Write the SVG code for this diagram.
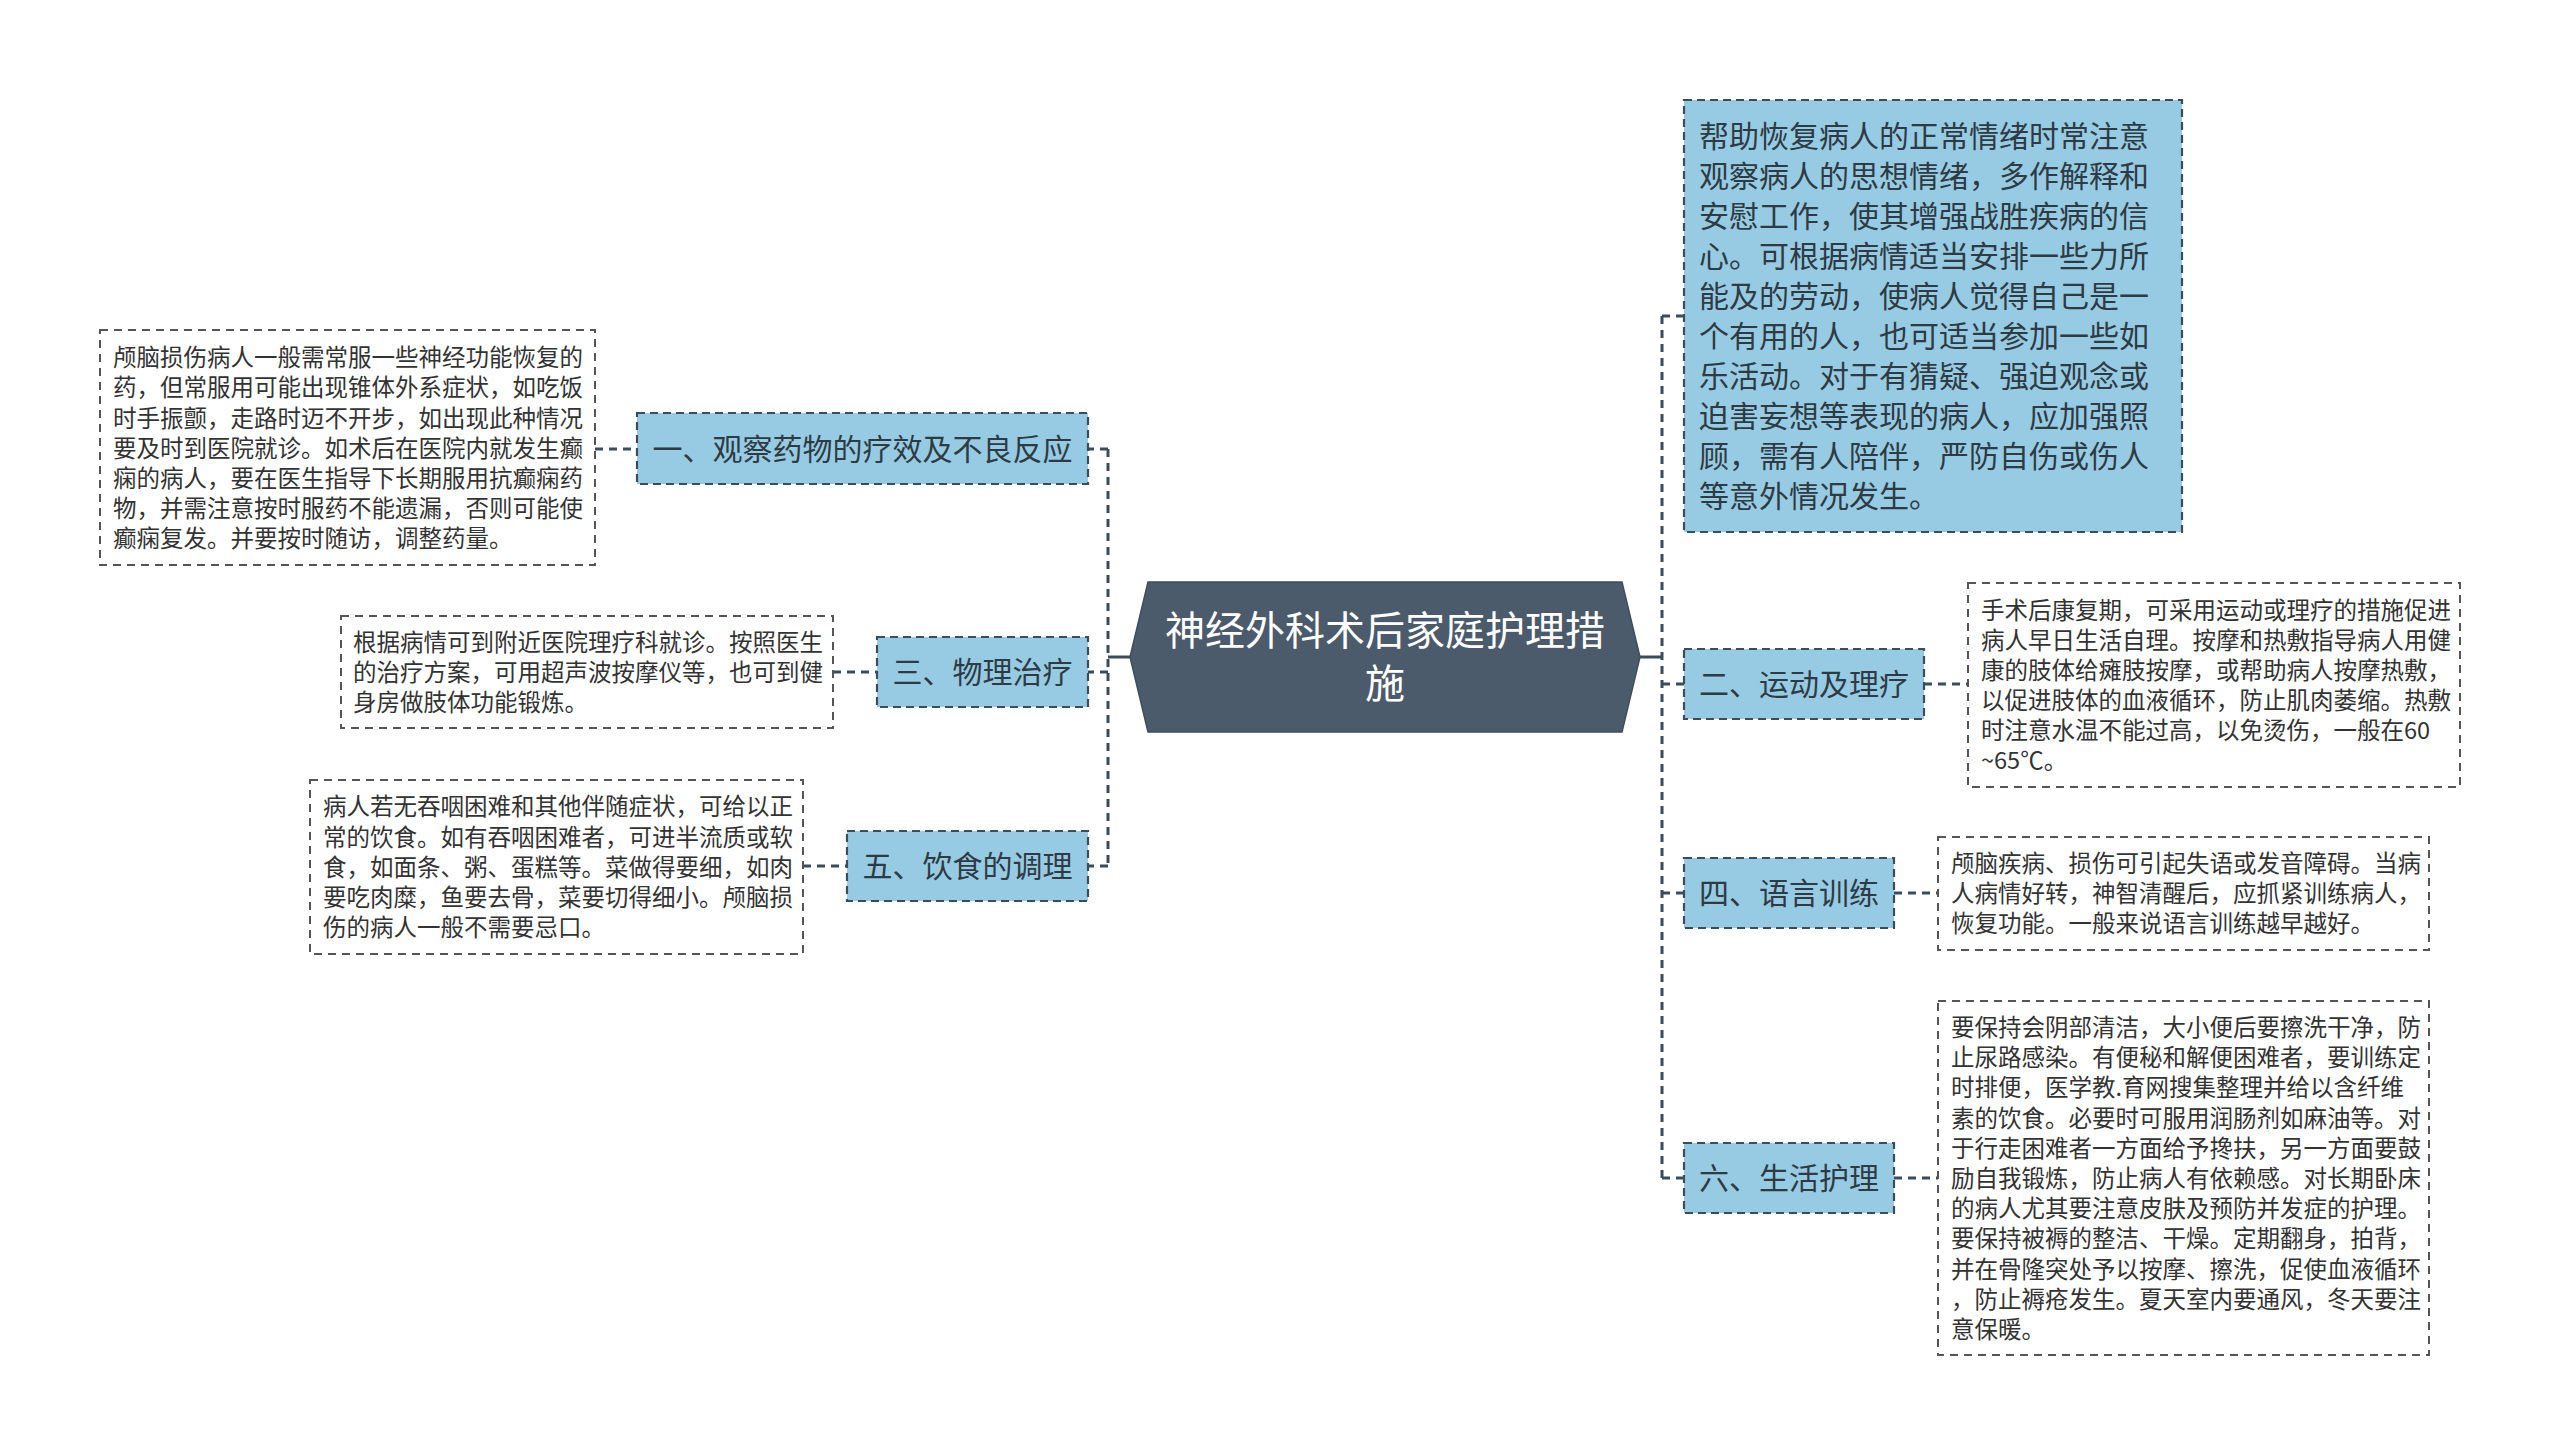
<svg xmlns="http://www.w3.org/2000/svg" width="2560" height="1456" viewBox="0 0 2560 1456">
<style>
text{font-family:"Noto Sans CJK SC","Noto Sans CJK TC",sans-serif;fill:#333333}
.leaf rect{fill:#ffffff;stroke:#555555;stroke-width:2;stroke-dasharray:8 6}
.leaf text{font-size:23.5px}
.node rect{fill:#97cbe3;stroke:#3b4d5a;stroke-width:2.2;stroke-dasharray:8 5}
.node text{font-size:30px;text-anchor:middle;fill:#2e3b44}
.big text{font-size:30px;text-anchor:start;fill:#2e3b44}
.center polygon{fill:#4b5b6b;stroke:#3f4e5c;stroke-width:1.5}
.center text{font-size:40px;text-anchor:middle;fill:#ffffff}
.conn path{fill:none;stroke:#3b4d5a;stroke-width:3;stroke-dasharray:8 6}
.conn .solid{stroke-dasharray:none}
</style>
<rect width="2560" height="1456" fill="#ffffff"/>
<g class="conn" id="connectors">
<path class="solid" d="M1130 657 H1108"/>
<path d="M1108 449 V866"/>
<path d="M1108 449 H1088"/>
<path d="M1108 672 H1088"/>
<path d="M1108 866 H1088"/>
<path class="solid" d="M1640 657 H1662"/>
<path d="M1662 316 V1178"/>
<path d="M1662 316 H1684"/>
<path d="M1662 684 H1684"/>
<path d="M1662 893 H1684"/>
<path d="M1662 1178 H1684"/>
<path d="M595 449 H637"/>
<path d="M833 672 H877"/>
<path d="M803 866 H847"/>
<path d="M1924 684 H1968"/>
<path d="M1894 893 H1938"/>
<path d="M1894 1178 H1938"/>
</g>
<g class="center" id="center">
<polygon points="1130,657 1148,582 1622,582 1640,657 1622,732 1148,732"/>
<text x="1385" y="645">神经外科术后家庭护理措</text>
<text x="1385" y="698">施</text>
</g>
<g class="node" id="n1">
<rect x="637" y="413" width="451" height="71"/>
<text x="862.5" y="460">一、观察药物的疗效及不良反应</text>
</g>
<g class="node" id="n3">
<rect x="877" y="637" width="211" height="70"/>
<text x="982.5" y="683">三、物理治疗</text>
</g>
<g class="node" id="n5">
<rect x="847" y="831" width="241" height="70"/>
<text x="967.5" y="877">五、饮食的调理</text>
</g>
<g class="node big" id="n0">
<rect x="1684" y="100" width="498" height="432"/>
<text x="1699" y="147">帮助恢复病人的正常情绪时常注意</text>
<text x="1699" y="187">观察病人的思想情绪，多作解释和</text>
<text x="1699" y="227">安慰工作，使其增强战胜疾病的信</text>
<text x="1699" y="267">心。可根据病情适当安排一些力所</text>
<text x="1699" y="307">能及的劳动，使病人觉得自己是一</text>
<text x="1699" y="347">个有用的人，也可适当参加一些如</text>
<text x="1699" y="387">乐活动。对于有猜疑、强迫观念或</text>
<text x="1699" y="427">迫害妄想等表现的病人，应加强照</text>
<text x="1699" y="467">顾，需有人陪伴，严防自伤或伤人</text>
<text x="1699" y="507">等意外情况发生。</text>
</g>
<g class="node" id="n2">
<rect x="1684" y="649" width="240" height="70"/>
<text x="1804" y="695">二、运动及理疗</text>
</g>
<g class="node" id="n4">
<rect x="1684" y="858" width="210" height="70"/>
<text x="1789" y="904">四、语言训练</text>
</g>
<g class="node" id="n6">
<rect x="1684" y="1143" width="210" height="70"/>
<text x="1789" y="1189">六、生活护理</text>
</g>
<g class="leaf" id="l1">
<rect x="100" y="330" width="495" height="235"/>
<text x="113" y="366">颅脑损伤病人一般需常服一些神经功能恢复的</text>
<text x="113" y="396">药，但常服用可能出现锥体外系症状，如吃饭</text>
<text x="113" y="427">时手振颤，走路时迈不开步，如出现此种情况</text>
<text x="113" y="457">要及时到医院就诊。如术后在医院内就发生癫</text>
<text x="113" y="487">痫的病人，要在医生指导下长期服用抗癫痫药</text>
<text x="113" y="517">物，并需注意按时服药不能遗漏，否则可能使</text>
<text x="113" y="547">癫痫复发。并要按时随访，调整药量。</text>
</g>
<g class="leaf" id="l3">
<rect x="341" y="616" width="492" height="112"/>
<text x="353" y="651">根据病情可到附近医院理疗科就诊。按照医生</text>
<text x="353" y="681">的治疗方案，可用超声波按摩仪等，也可到健</text>
<text x="353" y="711">身房做肢体功能锻炼。</text>
</g>
<g class="leaf" id="l5">
<rect x="310" y="780" width="493" height="174"/>
<text x="323" y="815">病人若无吞咽困难和其他伴随症状，可给以正</text>
<text x="323" y="846">常的饮食。如有吞咽困难者，可进半流质或软</text>
<text x="323" y="876">食，如面条、粥、蛋糕等。菜做得要细，如肉</text>
<text x="323" y="906">要吃肉糜，鱼要去骨，菜要切得细小。颅脑损</text>
<text x="323" y="936">伤的病人一般不需要忌口。</text>
</g>
<g class="leaf" id="l2">
<rect x="1968" y="583" width="492" height="204"/>
<text x="1981" y="619">手术后康复期，可采用运动或理疗的措施促进</text>
<text x="1981" y="649">病人早日生活自理。按摩和热敷指导病人用健</text>
<text x="1981" y="679">康的肢体给瘫肢按摩，或帮助病人按摩热敷，</text>
<text x="1981" y="709">以促进肢体的血液循环，防止肌肉萎缩。热敷</text>
<text x="1981" y="739">时注意水温不能过高，以免烫伤，一般在60</text>
<text x="1981" y="769">~65℃。</text>
</g>
<g class="leaf" id="l4">
<rect x="1938" y="837" width="491" height="113"/>
<text x="1951" y="872">颅脑疾病、损伤可引起失语或发音障碍。当病</text>
<text x="1951" y="902">人病情好转，神智清醒后，应抓紧训练病人，</text>
<text x="1951" y="932">恢复功能。一般来说语言训练越早越好。</text>
</g>
<g class="leaf" id="l6">
<rect x="1938" y="1001" width="491" height="354"/>
<text x="1951" y="1036">要保持会阴部清洁，大小便后要擦洗干净，防</text>
<text x="1951" y="1066">止尿路感染。有便秘和解便困难者，要训练定</text>
<text x="1951" y="1096">时排便，医学教.育网搜集整理并给以含纤维</text>
<text x="1951" y="1127">素的饮食。必要时可服用润肠剂如麻油等。对</text>
<text x="1951" y="1157">于行走困难者一方面给予搀扶，另一方面要鼓</text>
<text x="1951" y="1187">励自我锻炼，防止病人有依赖感。对长期卧床</text>
<text x="1951" y="1217">的病人尤其要注意皮肤及预防并发症的护理。</text>
<text x="1951" y="1247">要保持被褥的整洁、干燥。定期翻身，拍背，</text>
<text x="1951" y="1278">并在骨隆突处予以按摩、擦洗，促使血液循环</text>
<text x="1951" y="1308">，防止褥疮发生。夏天室内要通风，冬天要注</text>
<text x="1951" y="1338">意保暖。</text>
</g>
</svg>
